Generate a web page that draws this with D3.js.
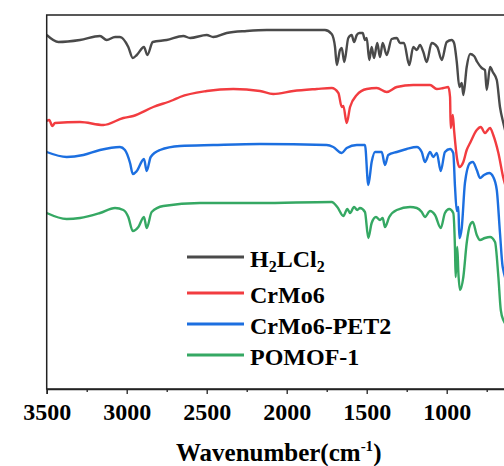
<!DOCTYPE html>
<html>
<head>
<meta charset="utf-8">
<script src="https://cdn.jsdelivr.net/npm/d3@7"></script>
<style>
  html, body { margin: 0; padding: 0; background: #fff; }
  svg { display: block; }
  text { font-family: "Liberation Serif", "Times New Roman", serif; font-weight: bold; fill: #000; }
</style>
</head>
<body>
<svg id="chart" width="504" height="466"></svg>
<script>
// ---- Data (FTIR transmittance, arbitrary offset units) ----
const blackWn = [3500,3427,3292,3167,3125,3073,3042,2990,2962,2937,2892,2871,2837,2750,2646,2604,2500,2459,2375,2250,2125,1917,1761,1719,1698,1687,1667,1656,1640,1615,1594,1579,1562,1546,1525,1511,1500,1484,1469,1454,1434,1417,1400,1375,1344,1312,1292,1267,1234,1209,1187,1167,1146,1125,1094,1059,1031,1000,969,954,937,921,906,896,875,854,829,809,781,761,750,729,712,687,667,646,600];
const blackT  = [354,347,349,353,349,352,352,342,331,334,342,334,347,349,353,351,354,352,356,358,359,359,359,355,342,324,339,341,327,351,354,347,354,356,356,349,351,329,342,331,346,332,346,334,350,351,346,346,324,342,339,344,337,327,346,342,329,347,349,346,327,302,306,294,322,335,333,327,321,319,299,322,317,309,282,266,240];

const redWn = [3500,3484,3465,3448,3292,3146,3021,2959,2834,2709,2667,2500,2334,2167,2084,1959,1812,1719,1677,1656,1646,1625,1604,1562,1500,1437,1375,1312,1209,1104,1062,1021,990,979,975,962,954,934,921,896,875,854,812,787,761,729,709,677,646,600];
const redT  = [268,269,263,266,267,264,271,273,282,289,292,298,300,298,295,298,300,301,296,282,283,266,282,294,300,301,297,302,304,304,300,301,302,292,261,274,259,229,222,227,239,246,259,262,256,261,254,236,211,190];

const blueWn = [3500,3375,3271,3167,3042,3011,2979,2962,2937,2892,2875,2850,2792,2667,2459,2167,1750,1709,1656,1625,1562,1511,1490,1469,1448,1406,1386,1365,1312,1250,1187,1156,1136,1104,1084,1062,1037,1011,979,959,948,937,927,921,906,886,854,837,812,792,767,734,709,687,667,650,600];
const blueT  = [237,232,234,239,242,239,226,215,218,230,218,232,239,243,244,245,244,242,236,241,244,244,204,227,237,237,224,234,237,240,242,237,227,237,232,236,218,237,240,236,202,178,182,151,161,206,226,227,219,211,214,216,212,199,156,122,100];

const greenWn = [3500,3375,3292,3167,3073,3021,2990,2962,2927,2892,2875,2844,2771,2542,2167,1719,1684,1646,1621,1604,1579,1559,1542,1511,1490,1469,1442,1417,1400,1386,1359,1312,1229,1187,1156,1136,1104,1073,1037,1011,984,959,948,944,934,927,917,896,875,854,837,812,792,761,729,698,677,662,646,600];
const greenT  = [176,170,171,176,181,179,172,158,162,172,161,177,183,186,186,187,182,173,180,176,182,179,181,177,151,166,172,169,171,162,172,179,182,181,177,172,178,174,161,176,180,176,139,112,142,116,99,112,146,164,167,154,149,151,152,147,112,79,69,60];

const seriesNames  = ["H2LCl2", "CrMo6", "CrMo6-PET2", "POMOF-1"];
const seriesColors = ["#4a4a4a", "#f23c40", "#1c6fe0", "#35a863"];
const xDomain = [3500, 600];
const yDomain = [0, 374];
const majorTicks = [3500, 3000, 2500, 2000, 1500, 1000];
const minorTicks = [3250, 2750, 2250, 1750, 1250, 750];
const xTitle = "Wavenumber(cm";
const xTitleSup = "-1";

// ---- Layout ----
const svg = d3.select("#chart");
const margin = { left: 46.7, top: 15, bottom: 389, right: 510.7 };

const x = d3.scaleLinear().domain(xDomain).range([margin.left, margin.right]);
const y = d3.scaleLinear().domain(yDomain).range([margin.bottom, margin.top]);

svg.append("defs").append("clipPath").attr("id", "plotclip")
  .append("rect")
  .attr("x", margin.left).attr("y", margin.top)
  .attr("width", margin.right - margin.left).attr("height", margin.bottom - margin.top);

const series = [
  { wn: blackWn, t: blackT },
  { wn: redWn, t: redT },
  { wn: blueWn, t: blueT },
  { wn: greenWn, t: greenT }
];

const line = d3.line()
  .x(d => x(d[0]))
  .y(d => y(d[1]))
  .curve(d3.curveMonotoneX);

const plot = svg.append("g").attr("clip-path", "url(#plotclip)");
series.forEach((s, i) => {
  const pts = s.wn.map((w, k) => [w, s.t[k]]);
  plot.append("path")
    .datum(pts)
    .attr("fill", "none")
    .attr("stroke", seriesColors[i])
    .attr("stroke-width", 2.4)
    .attr("stroke-linejoin", "round")
    .attr("d", line);
});

// Frame (top, left, right)
svg.append("rect")
  .attr("x", margin.left).attr("y", margin.top)
  .attr("width", margin.right - margin.left).attr("height", margin.bottom - margin.top)
  .attr("fill", "none").attr("stroke", "#222").attr("stroke-width", 1.5);

// Bottom axis
const xAxis = d3.axisBottom(x).tickValues(majorTicks).tickSize(5).tickPadding(9)
  .tickFormat(d3.format("d"));
const gx = svg.append("g").attr("transform", `translate(0,${margin.bottom})`).call(xAxis);
gx.select(".domain").attr("stroke", "#222").attr("stroke-width", 1.5);
gx.selectAll(".tick line").attr("stroke", "#222").attr("stroke-width", 1.3);
gx.selectAll(".tick text")
  .attr("font-family", "'Liberation Serif', 'Times New Roman', serif")
  .attr("font-weight", "bold")
  .attr("font-size", 24).attr("fill", "#000");

const xMinor = d3.axisBottom(x).tickValues(minorTicks).tickSize(3).tickFormat("");
const gm = svg.append("g").attr("transform", `translate(0,${margin.bottom})`).call(xMinor);
gm.select(".domain").remove();
gm.selectAll(".tick line").attr("stroke", "#222").attr("stroke-width", 1.3);

// X title
const title = svg.append("text")
  .attr("x", (margin.left + margin.right) / 2)
  .attr("y", 461)
  .attr("text-anchor", "middle")
  .attr("font-size", 25);
title.append("tspan").text(xTitle);
title.append("tspan").attr("font-size", 15).attr("dy", -10).text(xTitleSup);
title.append("tspan").attr("dy", 10).text(")");

// Legend
const legendY = [257, 293, 324, 355];
const legend = svg.append("g");
seriesNames.forEach((name, i) => {
  const g = legend.append("g").attr("transform", `translate(0,${legendY[i]})`);
  g.append("line").attr("x1", 187).attr("x2", 244).attr("y1", 0).attr("y2", 0)
    .attr("stroke", seriesColors[i]).attr("stroke-width", 3);
  const t = g.append("text").attr("x", 250).attr("y", 10).attr("font-size", 24);
  if (name === "H2LCl2") {
    t.append("tspan").text("H");
    t.append("tspan").attr("font-size", 16).attr("dy", 5).text("2");
    t.append("tspan").attr("dy", -5).text("LCl");
    t.append("tspan").attr("font-size", 16).attr("dy", 5).text("2");
  } else {
    t.text(name);
  }
});
</script>
</body>
</html>
